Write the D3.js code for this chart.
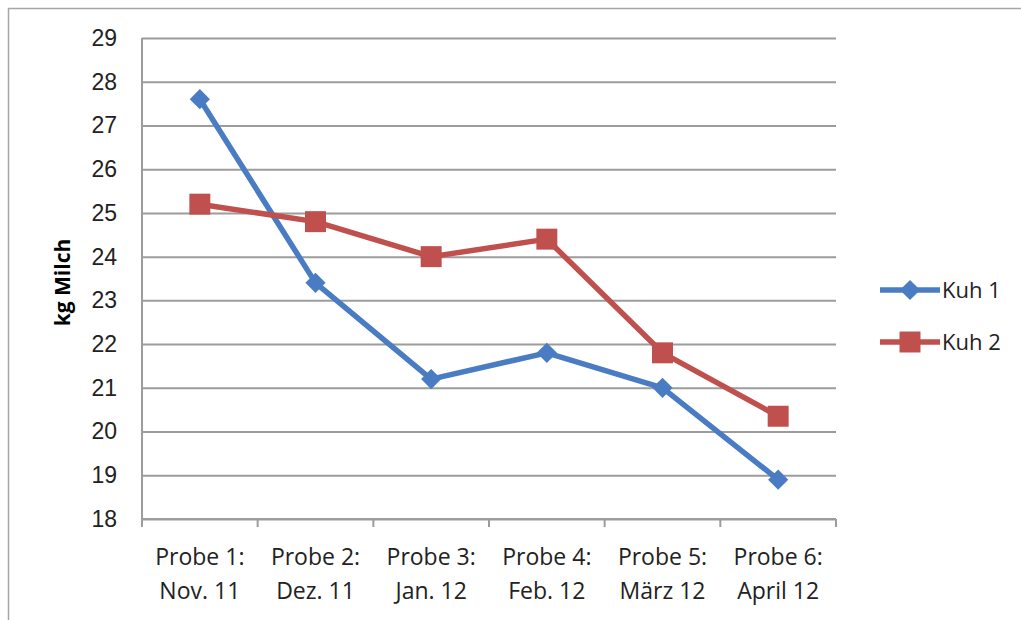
<!DOCTYPE html>
<html>
<head>
<meta charset="utf-8">
<script src="https://cdn.jsdelivr.net/npm/d3@7"></script>
<style>
  body { margin: 0; background: #fff; }
  svg { display: block; font-family: "Open Sans", "Noto Sans", sans-serif; }
</style>
</head>
<body>
<div id="wrapper"></div>
<script>
// data
const categories = ["Probe 1:|Nov. 11", "Probe 2:|Dez. 11", "Probe 3:|Jan. 12",
                    "Probe 4:|Feb. 12", "Probe 5:|März 12", "Probe 6:|April 12"]
const kuh1 = [27.6, 23.4, 21.2, 21.8, 21.0, 18.9]
const kuh2 = [25.2, 24.8, 24.0, 24.4, 21.8, 20.35]
const yTicks = [18, 19, 20, 21, 22, 23, 24, 25, 26, 27, 28, 29]
const seriesNames = ["Kuh 1", "Kuh 2"]
const seriesColors = ["#4a7cc4", "#c0504d"]

const width = 1021
const height = 620
const margin = { top: 38, right: 185, bottom: 101, left: 142 }
const boundedWidth = width - margin.left - margin.right   // 694
const boundedHeight = height - margin.top - margin.bottom // 481

const svg = d3.select("#wrapper").append("svg")
    .attr("width", width)
    .attr("height", height)

// outer chart border (runs off the right and bottom of the picture)
svg.append("rect")
    .attr("x", 8.5).attr("y", 8.5)
    .attr("width", 1030).attr("height", 630)
    .attr("fill", "none")
    .attr("stroke", "#a6a6a6")
    .attr("stroke-width", 1.5)

const bounds = svg.append("g")
    .attr("transform", `translate(${margin.left},${margin.top})`)

const xScale = d3.scaleBand()
    .domain(categories)
    .range([0, boundedWidth])

const yScale = d3.scaleLinear()
    .domain([18, 29])
    .range([boundedHeight, 0])

// gridlines + y axis
const yAxis = bounds.append("g")
    .call(d3.axisLeft(yScale).tickValues(yTicks).tickSize(10).tickPadding(15))
yAxis.select(".domain").remove()
yAxis.selectAll(".tick line")
    .attr("x2", boundedWidth)
    .attr("stroke", "#9c9c9c")
    .attr("stroke-width", 2)
yAxis.selectAll(".tick text")
    .attr("fill", "#222")
    .style("font-size", "23px")

// vertical axis line
bounds.append("line")
    .attr("x1", 0).attr("x2", 0)
    .attr("y1", 0).attr("y2", boundedHeight + 8)
    .attr("stroke", "#9c9c9c")
    .attr("stroke-width", 2)

// x axis with category boundary ticks
const xAxis = bounds.append("g")
    .attr("transform", `translate(0,${boundedHeight})`)
xAxis.append("line")
    .attr("x1", 0).attr("x2", boundedWidth)
    .attr("stroke", "#9c9c9c").attr("stroke-width", 2)
xAxis.selectAll(".xtick")
    .data(d3.range(categories.length + 1))
    .join("line")
    .attr("class", "xtick")
    .attr("x1", i => i * xScale.bandwidth())
    .attr("x2", i => i * xScale.bandwidth())
    .attr("y1", 0).attr("y2", 8)
    .attr("stroke", "#9c9c9c").attr("stroke-width", 2)

const xLabels = xAxis.selectAll(".xlabel")
    .data(categories)
    .join("text")
    .attr("class", "xlabel")
    .attr("x", d => xScale(d) + xScale.bandwidth() / 2)
    .attr("text-anchor", "middle")
    .attr("fill", "#222")
    .style("font-size", "23px")
xLabels.append("tspan")
    .attr("x", d => xScale(d) + xScale.bandwidth() / 2)
    .attr("y", 46)
    .text(d => d.split("|")[0])
xLabels.append("tspan")
    .attr("x", d => xScale(d) + xScale.bandwidth() / 2)
    .attr("y", 80)
    .text(d => d.split("|")[1])

// y axis title
svg.append("text")
    .attr("transform", `translate(70,${margin.top + boundedHeight / 2 + 4}) rotate(-90)`)
    .attr("text-anchor", "middle")
    .attr("fill", "#000")
    .style("font-size", "21px")
    .style("font-weight", "bold")
    .text("kg Milch")

// series
const line = d3.line()
    .x((d, i) => xScale(categories[i]) + xScale.bandwidth() / 2)
    .y(d => yScale(d))

const diamond = d3.symbol().type(d3.symbolDiamond2).size(260)
const square = d3.symbol().type(d3.symbolSquare).size(440)
const shapes = [diamond, square]

;[kuh1, kuh2].forEach((values, s) => {
    bounds.append("path")
        .datum(values)
        .attr("d", line)
        .attr("fill", "none")
        .attr("stroke", seriesColors[s])
        .attr("stroke-width", 5.5)
        .attr("stroke-linejoin", "round")

    bounds.selectAll(`.marker${s}`)
        .data(values)
        .join("path")
        .attr("class", `marker${s}`)
        .attr("transform", (d, i) =>
            `translate(${xScale(categories[i]) + xScale.bandwidth() / 2},${yScale(d)})`)
        .attr("d", shapes[s]())
        .attr("fill", seriesColors[s])
})

// legend
const legend = svg.append("g")
    .attr("transform", "translate(880,290)")
seriesNames.forEach((name, s) => {
    const g = legend.append("g").attr("transform", `translate(0,${s * 52})`)
    g.append("line")
        .attr("x1", 0).attr("x2", 60)
        .attr("stroke", seriesColors[s])
        .attr("stroke-width", 5.5)
    g.append("path")
        .attr("transform", "translate(30,0)")
        .attr("d", shapes[s]())
        .attr("fill", seriesColors[s])
    g.append("text")
        .attr("x", 62)
        .attr("dy", "0.35em")
        .attr("fill", "#222")
        .style("font-size", "22px")
        .text(name)
})
</script>
</body>
</html>
